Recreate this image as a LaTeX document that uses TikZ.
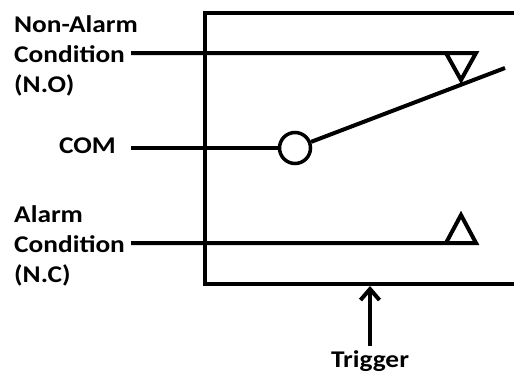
\documentclass[tikz,border=0pt]{standalone}
\usepackage{fontspec}
\setmainfont{Carlito}[FakeStretch=1.14]
\usetikzlibrary{arrows.meta}
\begin{document}
\begin{tikzpicture}[
    x=1pt, y=-1pt,
    wire/.style={line width=4pt},
    lbl/.style={font=\fontsize{24}{30}\selectfont\bfseries, inner sep=0pt, align=left},
    pivot/.style={circle, draw=black, line width=3.5pt, fill=white, minimum size=31pt, inner sep=0pt},
    trig/.style={-{Straight Barb[length=11pt, width=19pt, line width=4pt]}, line width=4pt}
  ]
    \useasboundingbox (0,0) rectangle (514,375);

    % Relay housing (open to the right)
    \draw[wire] (520,13) -- (205,13) -- (205,284) -- (520,284);

    % Terminal labels
    \node[lbl, anchor=west] (noLbl) at (14,56) {Non-Alarm\\Condition\\(N.O)};
    \node[lbl, anchor=west] (comLbl) at (59,146) {COM};
    \node[lbl, anchor=west] (ncLbl) at (14,246) {Alarm\\Condition\\(N.C)};
    \node[lbl] (trigLbl) at (370,361) {Trigger};

    % Wire ends
    \coordinate (noIn) at (131,53);
    \coordinate (noTip) at (476,53);
    \coordinate (comIn) at (131,148);
    \coordinate (ncIn) at (131,243);
    \coordinate (ncTip) at (476,243);
    \coordinate (arm) at (505,68);
    \coordinate (trigTail) at (370,346);
    \coordinate (boxBot) at (370,286);

    % Normally open contact
    \draw[wire, line join=miter] (noIn) -- (noTip) -- (461,80) -- (446,53);

    % Normally closed contact
    \draw[wire, line join=miter] (ncIn) -- (ncTip) -- (461,215) -- (446,243);

    % Common terminal and switch arm
    \node[pivot] (com) at (295,148) {};
    \draw[wire] (comIn) -- (com);
    \draw[wire] (com) -- (arm);

    % Trigger input
    \draw[trig] (trigTail) -- (boxBot);

  \end{tikzpicture}
\end{document}
